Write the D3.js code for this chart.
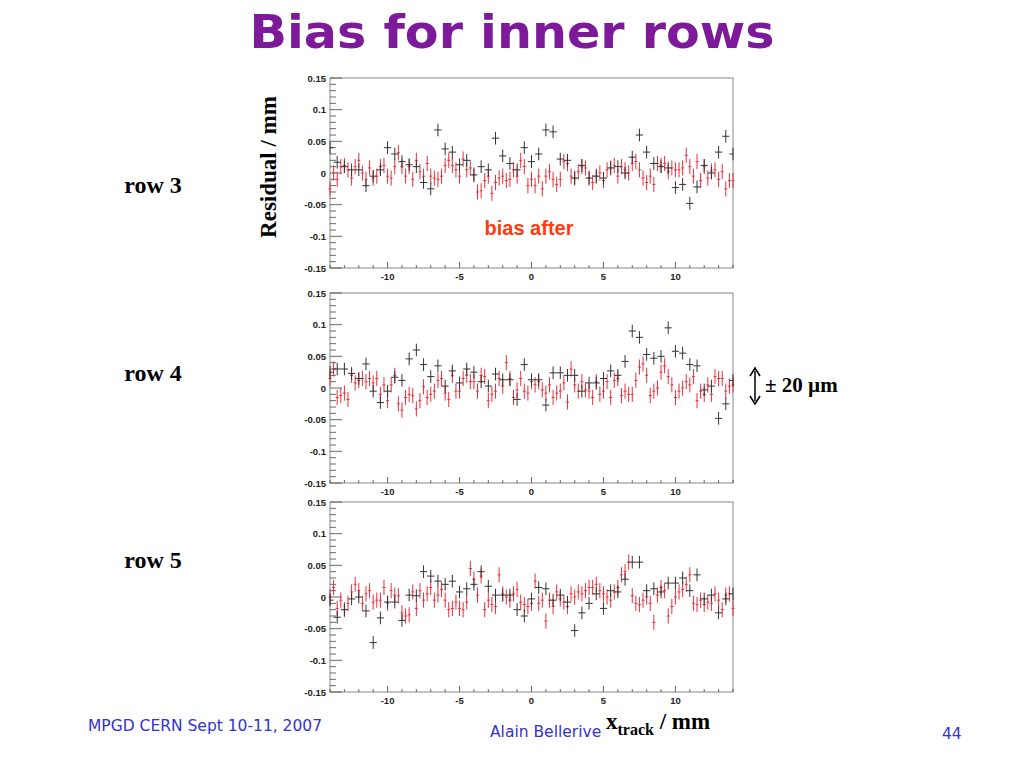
<!DOCTYPE html>
<html>
<head>
<meta charset="utf-8">
<script src="https://cdn.jsdelivr.net/npm/d3@7"></script>
<style>
  body { margin: 0; background: #fff; }
</style>
</head>
<body>
<div id="chart"></div>
<script>
// black = bias before (0.5 mm bins), red = bias after (0.25 mm bins)
var yTicks = [-0.15, -0.1, -0.05, 0, 0.05, 0.1, 0.15];
var xTicks = [-10, -5, 0, 5, 10];
var rowLabels = ["row 3", "row 4", "row 5"];

var black3 = [0.04,0.017,0.01,0.005,0.005,-0.02,-0.005,0.005,0.04,0.03,0.018,0.013,0.01,-0.015,-0.025,0.068,0.038,0.033,0.013,0.02,-0.003,0.01,0.005,0.055,0.027,0.015,0.005,0.04,0.018,0.03,0.068,0.065,0.022,0.02,-0.008,0.012,-0.008,-0.005,-0.008,0.008,0.01,0,0.025,0.06,0.033,0.015,0.01,0.008,-0.023,-0.018,-0.048,-0.022,0.012,0,0.033,0.058,0.03];
var black4 = [0.025,0.03,0.03,0.023,0.015,0.038,-0.005,-0.023,-0.005,0.017,0.012,0.046,0.06,0.037,0.018,0.035,0.003,0.027,0.008,0.03,0.025,0.01,0.003,0.022,0.013,0.013,-0.018,0.037,0.013,0.013,-0.027,0.024,0.024,0.02,0.02,-0.005,0.008,0.008,0.015,0.027,0.02,0.042,0.09,0.08,0.053,0.047,0.05,0.095,0.058,0.055,0.037,0.035,-0.003,0.003,-0.048,-0.025,0.012];
var black5 = [-0.005,-0.032,-0.02,-0.003,0,-0.022,-0.072,-0.033,-0.008,-0.008,-0.037,0.003,0.002,0.04,0.033,0.025,0.02,0.025,0.008,0.013,0.02,0.04,0.017,0.003,0.003,0.003,-0.02,-0.03,-0.003,0.015,0.013,-0.005,0.003,-0.008,-0.053,-0.025,-0.01,0.005,-0.018,0.01,0.008,0.028,0.055,0.055,0.01,0.013,0.008,0.022,0.022,0.03,0.01,0.035,-0.003,0.003,-0.025,-0.003,0.005];

var red3 = [-0.025,0,-0.01,0.01,0.012,0.005,-0.008,0.01,0.02,0,-0.01,0.008,-0.008,-0.005,0.01,0.012,-0.005,-0.008,0.01,0.032,0.01,-0.005,0.01,-0.01,0.02,0.002,-0.005,0.015,-0.005,-0.008,-0.01,-0.005,0.012,0.02,0.012,0.005,-0.005,0.022,0.005,0.008,-0.003,-0.03,-0.028,-0.012,-0.005,-0.032,-0.015,-0.008,-0.005,-0.012,-0.01,0.005,-0.005,0.02,0.01,-0.02,-0.01,-0.02,-0.005,-0.025,-0.005,0.002,-0.01,-0.018,-0.01,0.018,0.015,-0.005,-0.008,0.002,0.01,0.008,-0.008,-0.015,-0.005,0,-0.012,0.005,0.008,0.012,-0.005,0.01,0.005,0,0.015,0.018,0.005,-0.008,-0.015,-0.005,-0.018,0.015,0.012,0.015,0.002,0.008,0.005,0.005,0.008,0.028,0.01,-0.005,0.018,-0.012,0.01,-0.008,0.003,0.005,-0.01,0.002,-0.025,-0.012,-0.012];
var red4 = [0.015,0.03,-0.015,-0.012,-0.008,-0.018,0.02,0.008,0.012,0.015,0.01,0.015,0.008,0.015,-0.01,0.005,-0.02,0.005,0.02,-0.025,-0.035,-0.015,-0.01,-0.012,-0.033,-0.02,0.002,-0.015,-0.01,-0.005,0.012,0.015,-0.008,-0.018,0.02,-0.005,-0.005,0.015,0.02,0.01,0.01,-0.005,0.02,0.018,-0.02,-0.01,-0.005,0.015,0.003,0.04,0.015,-0.015,-0.003,0.015,-0.005,-0.008,0.01,0.005,0.01,-0.003,-0.008,0.005,-0.015,-0.008,-0.005,0.008,-0.022,0.03,0.005,-0.005,0.01,-0.003,-0.005,-0.015,0.01,-0.01,-0.005,0.01,-0.015,0.012,0.015,-0.012,-0.005,-0.01,-0.01,0.012,0.033,0.038,0.02,-0.012,-0.005,0,0.025,0.035,0.018,0.005,-0.015,-0.005,0,0.01,0.005,0.018,-0.02,-0.005,-0.01,0.005,-0.01,0.018,0.015,0.015,-0.005,0.003,0.005];
var red5 = [0,0.015,-0.018,-0.005,-0.02,-0.01,0.008,0.02,0.01,-0.01,0.005,0.01,-0.008,-0.005,-0.005,0.015,-0.01,0.01,0.003,0.002,-0.025,-0.03,-0.028,0.008,-0.018,0.01,-0.005,0.005,0.015,-0.005,0.003,0.012,-0.005,-0.02,-0.018,-0.008,-0.018,-0.02,-0.008,0.045,0.028,0.003,0.033,-0.02,-0.005,-0.012,-0.015,0.035,0.005,0,-0.005,0.005,0.012,-0.008,-0.012,-0.015,-0.01,0.025,-0.01,-0.005,-0.038,-0.005,-0.015,0.008,-0.003,-0.008,-0.015,0.005,0,0.008,0.005,0.01,0.015,0.015,0.02,0.01,0.005,0,-0.005,0.008,0.015,0.035,0.04,0.055,0.002,-0.01,-0.012,-0.005,0,-0.01,-0.04,0.003,0.015,0.01,-0.03,-0.015,0,0.008,0.012,0.02,0.035,-0.01,-0.012,-0.005,-0.012,-0.008,-0.01,0.005,-0.005,-0.02,0.003,0.005,-0.018];

var panels = [
  {top: 78, black: black3, red: red3, labelY: 193},
  {top: 293, black: black4, red: red4, labelY: 381},
  {top: 502, black: black5, red: red5, labelY: 568}
];
var left = 330, right = 733, plotH = 190;

var svg = d3.select("#chart").append("svg")
  .attr("width", 1024).attr("height", 768);

svg.append("text").attr("x", 512).attr("y", 48).attr("text-anchor", "middle")
  .attr("font-family", "DejaVu Sans").attr("font-weight", "bold").attr("font-size", 47)
  .attr("textLength", 525).attr("lengthAdjust", "spacingAndGlyphs")
  .attr("fill", "#7d1a9a").text("Bias for inner rows");

var xScale = d3.scaleLinear().domain([-14, 14]).range([left, right]);

panels.forEach(function(p, i) {
  var yScale = d3.scaleLinear().domain([-0.15, 0.15]).range([p.top + plotH, p.top]);
  var g = svg.append("g");

  g.append("rect").attr("x", left).attr("y", p.top).attr("width", right - left).attr("height", plotH)
    .attr("fill", "none").attr("stroke", "#888").attr("stroke-width", 1);

  var minor = d3.range(-15, 16).map(function(d) { return d / 100; });
  g.selectAll(".ym").data(minor).enter().append("line")
    .attr("x1", left).attr("x2", function(d) { return left + (Math.round(d * 100) % 5 === 0 ? 12 : 6); })
    .attr("y1", function(d) { return yScale(d); }).attr("y2", function(d) { return yScale(d); })
    .attr("stroke", "#444").attr("stroke-width", 0.8);
  g.selectAll(".yl").data(yTicks).enter().append("text")
    .attr("x", 326).attr("y", function(d) { return yScale(d) + 3.5; })
    .attr("text-anchor", "end").attr("font-family", "Liberation Sans").attr("font-weight", "bold")
    .attr("font-size", 9.5).attr("fill", "#222").text(function(d) { return +d.toFixed(2); });

  var xminor = d3.range(-14, 15);
  g.selectAll(".xm").data(xminor).enter().append("line")
    .attr("x1", function(d) { return xScale(d); }).attr("x2", function(d) { return xScale(d); })
    .attr("y1", p.top + plotH).attr("y2", function(d) { return p.top + plotH - (d % 5 === 0 ? 6 : 3); })
    .attr("stroke", "#444").attr("stroke-width", 0.8);
  g.selectAll(".xl").data(xTicks).enter().append("text")
    .attr("x", function(d) { return xScale(d); }).attr("y", p.top + plotH + 12)
    .attr("text-anchor", "middle").attr("font-family", "Liberation Sans").attr("font-weight", "bold")
    .attr("font-size", 9.5).attr("fill", "#222").text(function(d) { return d; });

  g.selectAll(".r").data(p.red).enter().append("path")
    .attr("d", function(d, k) {
      var x = xScale(-14 + k * 0.25), y = yScale(d);
      return "M" + (x - 1.5) + "," + y + "H" + (x + 1.5) + "M" + x + "," + yScale(d + 0.012) + "V" + yScale(d - 0.012);
    })
    .attr("stroke", "#e8303a").attr("stroke-width", 1).attr("fill", "none");

  g.selectAll(".b").data(p.black).enter().append("path")
    .attr("d", function(d, k) {
      var xv = -14 + k * 0.5, y = yScale(d);
      return "M" + xScale(Math.max(-14, xv - 0.25)) + "," + y + "H" + xScale(Math.min(14, xv + 0.25)) +
        "M" + xScale(xv) + "," + yScale(d + 0.01) + "V" + yScale(d - 0.01);
    })
    .attr("stroke", "#333").attr("stroke-width", 1).attr("fill", "none");

  svg.append("text").attr("x", 153).attr("y", p.labelY).attr("text-anchor", "middle")
    .attr("font-family", "Liberation Serif").attr("font-weight", "bold").attr("font-size", 24)
    .text(rowLabels[i]);
});

svg.append("text").attr("transform", "translate(276,167) rotate(-90)").attr("text-anchor", "middle")
  .attr("font-family", "Liberation Serif").attr("font-weight", "bold").attr("font-size", 23)
  .text("Residual / mm");

svg.append("text").attr("x", 529).attr("y", 235).attr("text-anchor", "middle")
  .attr("font-family", "Liberation Sans").attr("font-weight", "bold").attr("font-size", 20)
  .attr("fill", "#ff3a10").text("bias after");

// ± 20 µm arrow
svg.append("line").attr("x1", 755).attr("x2", 755).attr("y1", 371).attr("y2", 401)
  .attr("stroke", "#000").attr("stroke-width", 1.5);
svg.append("path").attr("d", "M750,376L755,368L760,376M750,396L755,404L760,396")
  .attr("stroke", "#000").attr("stroke-width", 1.5).attr("fill", "none");
svg.append("text").attr("x", 765).attr("y", 392).attr("font-family", "Liberation Serif")
  .attr("font-weight", "bold").attr("font-size", 21).text("± 20 µm");

svg.append("text").attr("x", 88).attr("y", 731).attr("font-family", "DejaVu Sans")
  .attr("font-size", 15.5).attr("fill", "#3333cc").text("MPGD CERN Sept 10-11, 2007");
svg.append("text").attr("x", 490).attr("y", 737).attr("font-family", "DejaVu Sans")
  .attr("font-size", 15.5).attr("fill", "#3333cc").text("Alain Bellerive");
var xt = svg.append("text").attr("x", 606).attr("y", 729).attr("font-family", "Liberation Serif")
  .attr("font-weight", "bold").attr("font-size", 23);
xt.append("tspan").text("x");
xt.append("tspan").attr("dy", 6).attr("font-size", 16).text("track");
xt.append("tspan").attr("dy", -6).text(" / mm");
svg.append("text").attr("x", 942).attr("y", 739).attr("font-family", "DejaVu Sans")
  .attr("font-size", 15.5).attr("fill", "#3333cc").text("44");
</script>
</body>
</html>
